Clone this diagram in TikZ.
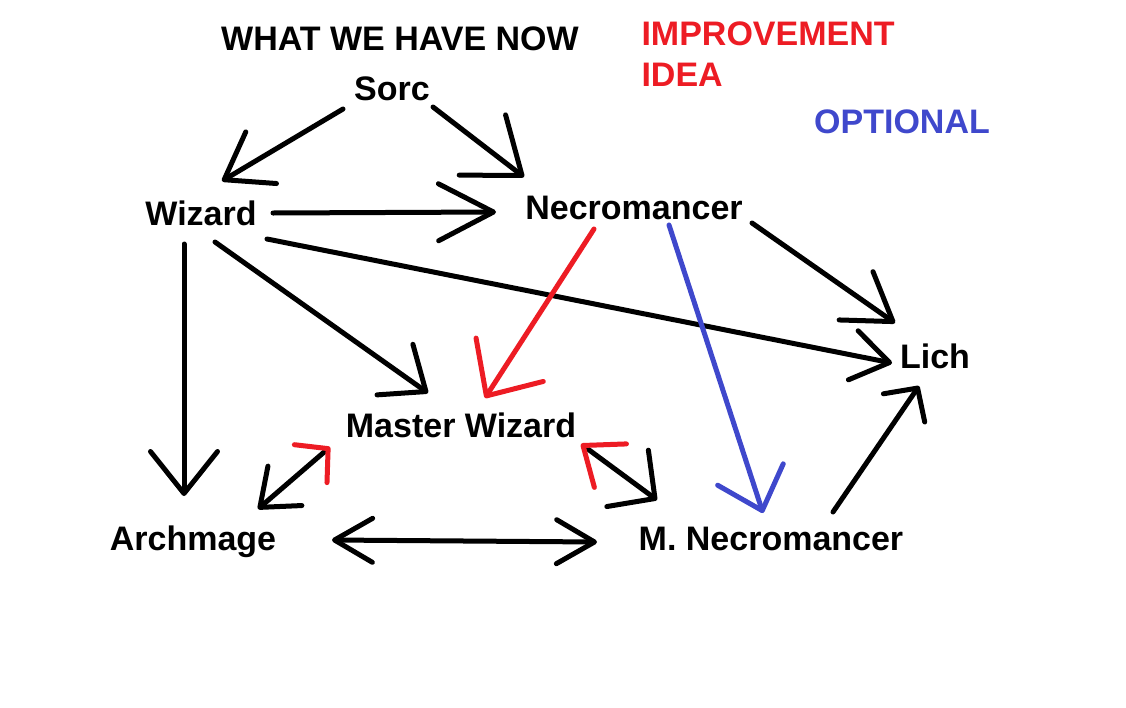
\documentclass[tikz,border=0pt]{standalone}
\usepackage{fontspec}
\setmainfont{Liberation Sans}
\usetikzlibrary{arrows.meta,calc}
\definecolor{ideaC}{HTML}{ED1C24}
\definecolor{optC}{HTML}{3F48CC}

\begin{document}
\begin{tikzpicture}[
  x=1pt, y=-1pt,
  line width=5pt, line cap=round,
  every node/.style={font=\fontsize{34}{41}\selectfont\bfseries, inner sep=0pt,
                     text height=24.3pt, text depth=0pt},
  cls/.style={text=black},
  barb/.style 2 args={-{Straight Barb[round,length=#1,width=#2]}},
]
\useasboundingbox[fill=white] (0,0) rectangle (1126,707);

% -- headings --
\node (have) at (400,38) {WHAT WE HAVE NOW};
\node[text=ideaC, anchor=west] (idea)  at (639,33.5) {IMPROVEMENT};
\node[text=ideaC, anchor=west] (idea2) at (639,74.5) {IDEA};
\node[text=optC] (opt) at (902,121) {OPTIONAL};

% -- classes --
\node[cls] (sorc)  at (392,88)  {Sorc};
\node[cls] (wiz)   at (201,213) {Wizard};
\node[cls] (necro) at (634,207) {Necromancer};
\node[cls] (lich)  at (935,356) {Lich};
\node[cls] (mw)    at (461,425) {Master Wizard};
\node[cls] (arch)  at (193,538) {Archmage};
\node[cls] (mnec)  at (771,538) {M. Necromancer};

% -- what we have now --
\draw[barb={43pt}{60pt}] ($(sorc)+(-49,21)$) -- ($(wiz)+(21,-32)$);
\draw[barb={50pt}{76pt}] ($(sorc)+(41,19)$) -- ($(necro)+(-110,-30)$);
\draw[barb={55pt}{57pt}] ($(wiz)+(72,0)$) -- ($(necro)+(-138,5)$);
\draw[barb={37pt}{50pt}] ($(wiz)+(66,26)$) -- ($(lich)+(-43,7)$);
\draw[barb={45pt}{59pt}] ($(necro)+(118,16)$) -- ($(lich)+(-40,-33)$);
\draw[barb={24pt}{50pt}] ($(mnec)+(62,-26)$) -- ($(lich)+(-16,30)$);
\draw[barb={38pt}{62pt}] ($(wiz)+(14,29)$) -- ($(mw)+(-33,-32)$);
\draw[barb={42pt}{67pt}] ($(wiz)+(-17,31)$) -- ($(arch)+(-9,-42)$);
\draw[{Straight Barb[round,length=38pt,width=44pt]}-{Straight Barb[round,length=38pt,width=44pt]}]
  ($(arch)+(139,2)$) -- ($(mnec)+(-174,4)$);

% -- improvement idea (red heads) --
\draw[barb={43pt}{80pt}, ideaC] ($(necro)+(-40,22)$) -- ($(mw)+(24,-27)$);
\draw[{Straight Barb[round,length=23pt,width=50pt,color=ideaC]}-{Straight Barb[round,length=33pt,width=52pt]}]
  ($(mw)+(-131,22)$) -- ($(arch)+(65,-29)$);
\draw[{Straight Barb[round,length=34pt,width=54pt,color=ideaC]}-{Straight Barb[round,length=34pt,width=70pt]}]
  ($(mw)+(120,19)$) -- ($(mnec)+(-114,-38)$);

% -- optional --
\draw[barb={38pt}{69pt}, optC] ($(necro)+(35,18)$) -- ($(mnec)+(-8,-25)$);

\end{tikzpicture}
\end{document}
